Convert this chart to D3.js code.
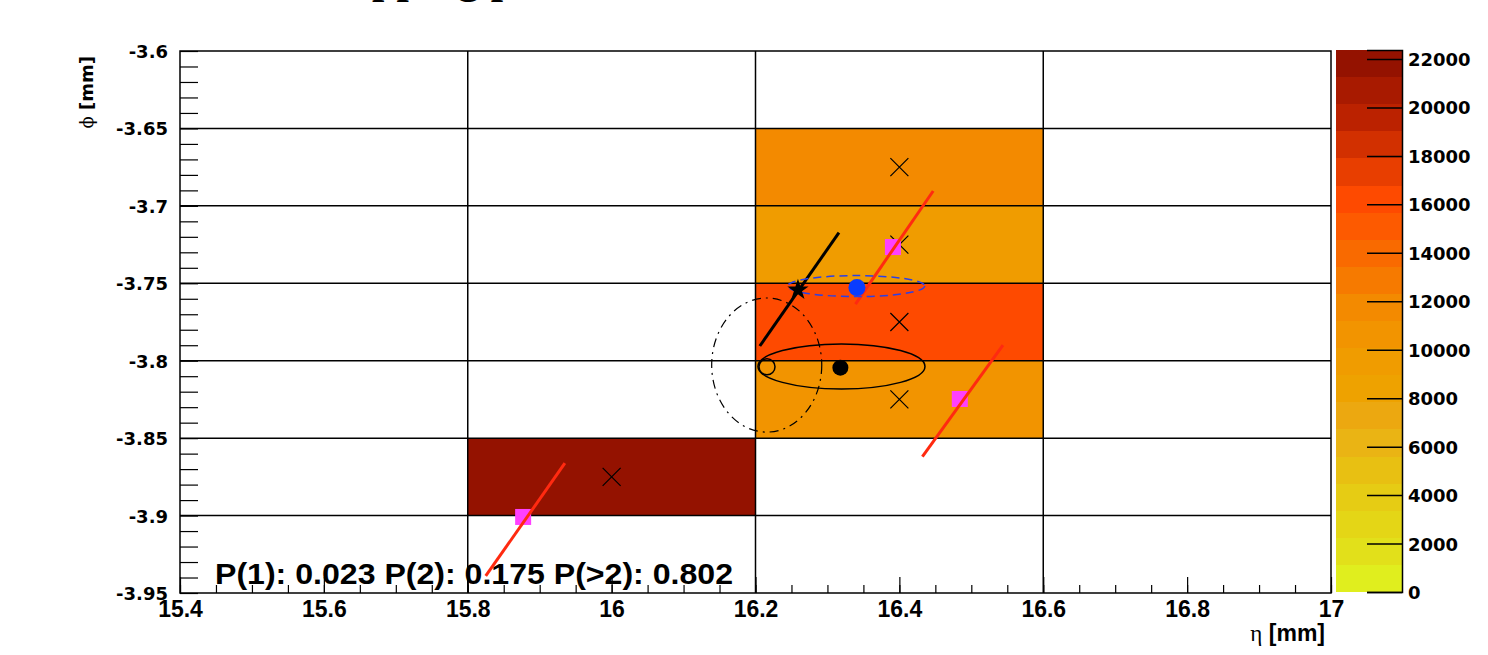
<!DOCTYPE html>
<html>
<head>
<meta charset="utf-8">
<script src="https://cdnjs.cloudflare.com/ajax/libs/d3/7.8.5/d3.min.js"></script>
<style>
  body { margin: 0; background: #ffffff; }
  svg { display: block; }
</style>
</head>
<body>
<div id="chart"></div>
<script>
// ---- data ----
// 2D histogram bins (centres, eta x phi), bin size 0.4 x 0.05
var binEta = [16.4, 16.4, 16.4, 16.4, 16.0];
var binPhi = [-3.675, -3.725, -3.775, -3.825, -3.875];
var binCounts = [11800, 9200, 16200, 10600, 22371];
var binWidthEta = 0.4;
var binWidthPhi = 0.05;

// pixel boundary lines
var gridEta = [15.8, 16.2, 16.6];
var gridPhi = [-3.65, -3.7, -3.75, -3.8, -3.85, -3.9];

// axis ticks
var xTicks = [15.4, 15.6, 15.8, 16.0, 16.2, 16.4, 16.6, 16.8, 17.0];
var xTickLabels = ["15.4", "15.6", "15.8", "16", "16.2", "16.4", "16.6", "16.8", "17"];
var yTicks = [-3.6, -3.65, -3.7, -3.75, -3.8, -3.85, -3.9, -3.95];
var yTickLabels = ["-3.6", "-3.65", "-3.7", "-3.75", "-3.8", "-3.85", "-3.9", "-3.95"];
var zTicks = [0, 2000, 4000, 6000, 8000, 10000, 12000, 14000, 16000, 18000, 20000, 22000];

// colour palette (bottom -> top, 20 contours)
var palette = ["#e0ee1e", "#e2e01a", "#e4d616", "#e6cc14", "#e8c012", "#eab414", "#eca810",
               "#eea200", "#f09c00", "#f29400", "#f38a00", "#f67a00", "#f96a00", "#fd5a00",
               "#fe4a00", "#e83e00", "#d23000", "#bb2200", "#a81a00", "#941200"];

// truth hits (magenta squares) and their track segments (red)
var hitEta = [16.391, 16.484, 15.877];
var hitPhi = [-3.7266, -3.8247, -3.9009];
var trackEta1 = [16.339, 16.432, 15.825];
var trackPhi1 = [-3.7634, -3.862, -3.939];
var trackEta2 = [16.447, 16.544, 15.935];
var trackPhi2 = [-3.6904, -3.7899, -3.8662];

// reconstructed cluster direction (black line + star)
var recoLineEta = [16.206, 16.316];
var recoLinePhi = [-3.7905, -3.7173];
var starEta = 16.259, starPhi = -3.7543;

// cluster positions and error ellipses
var blueDot = {eta: 16.341, phi: -3.7528};
var blueEllipse = {eta: 16.340, phi: -3.7518, rEta: 0.0952, rPhi: 0.00678};
var blackDot = {eta: 16.318, phi: -3.8045};
var blackEllipse = {eta: 16.3195, phi: -3.8037, rEta: 0.1161, rPhi: 0.01453};
var openCircle = {eta: 16.216, phi: -3.8039};
var dashedEllipse = {eta: 16.2156, phi: -3.8028, rEta: 0.0765, rPhi: 0.0433};

var probText = "P(1): 0.023 P(2): 0.175 P(>2): 0.802";

(function (window, undefined) {

    var W = 1488, H = 655;
    var plot = {left: 180, right: 1331, top: 51, bottom: 593};
    var zbar = {left: 1336, right: 1402};

    var svg = d3.select("#chart").append("svg")
        .attr("width", W)
        .attr("height", H);

    svg.append("rect")
        .attr("width", W)
        .attr("height", H)
        .attr("fill", "#ffffff");

    //scales
    var x = d3.scaleLinear().domain([15.4, 17.0]).range([plot.left, plot.right]);
    var y = d3.scaleLinear().domain([-3.95, -3.6]).range([plot.bottom, plot.top]);
    var zMax = 22371;
    var z = d3.scaleLinear().domain([0, zMax]).range([plot.bottom - 1, plot.top - 1]);
    var colour = d3.scaleQuantize().domain([0, zMax]).range(palette);

    // cut off title at the very top
    svg.append("text")
        .attr("x", 372)
        .attr("y", -7)
        .style("font-family", "'Liberation Serif', 'DejaVu Serif', serif")
        .style("font-weight", "bold")
        .style("font-size", "44px")
        .text("pping p");

    //histogram cells
    var cells = binEta.map(function(d, i){
        return {eta: d, phi: binPhi[i], n: binCounts[i]};
    });
    svg.append("g").selectAll("rect")
        .data(cells)
        .enter().append("rect")
        .attr("x", function(d){ return x(d.eta - binWidthEta / 2); })
        .attr("y", function(d){ return y(d.phi + binWidthPhi / 2); })
        .attr("width", function(d){ return x(d.eta + binWidthEta / 2) - x(d.eta - binWidthEta / 2); })
        .attr("height", function(d){ return y(d.phi - binWidthPhi / 2) - y(d.phi + binWidthPhi / 2); })
        .attr("fill", function(d){ return colour(d.n); });

    //grid lines
    var grid = svg.append("g")
        .attr("stroke", "#000")
        .attr("stroke-width", 1.5);
    grid.selectAll(".gv").data(gridEta).enter().append("line")
        .attr("x1", function(d){ return x(d); })
        .attr("x2", function(d){ return x(d); })
        .attr("y1", plot.top)
        .attr("y2", plot.bottom);
    grid.selectAll(".gh").data(gridPhi).enter().append("line")
        .attr("x1", plot.left)
        .attr("x2", plot.right)
        .attr("y1", function(d){ return y(d); })
        .attr("y2", function(d){ return y(d); });

    //axes
    var xMinor = d3.range(0, 33).map(function(i){ return 15.4 + i * 0.05; });
    var xAxis = d3.axisBottom(x).tickValues(xMinor).tickSize(-8).tickFormat("");
    svg.append("g")
        .attr("transform", "translate(0," + plot.bottom + ")")
        .call(xAxis)
        .call(function(g){
            g.select(".domain").remove();
            g.selectAll("line").attr("stroke-width", 1.2);
        });
    var xMajor = d3.axisBottom(x).tickValues(xTicks).tickSize(-16)
        .tickFormat(function(d, i){ return xTickLabels[i]; });
    svg.append("g")
        .attr("transform", "translate(0," + plot.bottom + ")")
        .call(xMajor)
        .call(function(g){
            g.select(".domain").remove();
            g.selectAll("line").attr("stroke-width", 1.2);
            g.selectAll("text")
                .attr("y", 24)
                .attr("dy", 0)
                .style("font-family", "'Liberation Sans', Arial, sans-serif")
                .style("font-weight", "bold")
                .style("font-size", "23px")
                .attr("fill", "#000");
        });

    var yMinor = d3.range(0, 36).map(function(i){ return -3.95 + i * 0.01; });
    var yAxis = d3.axisLeft(y).tickValues(yMinor).tickSize(-18).tickFormat("");
    svg.append("g")
        .attr("transform", "translate(" + plot.left + ",0)")
        .call(yAxis)
        .call(function(g){
            g.select(".domain").remove();
            g.selectAll("line").attr("stroke-width", 1.2);
        });
    var yMajor = d3.axisLeft(y).tickValues(yTicks).tickSize(0)
        .tickFormat(function(d, i){ return yTickLabels[i]; });
    svg.append("g")
        .attr("transform", "translate(" + plot.left + ",0)")
        .call(yMajor)
        .call(function(g){
            g.select(".domain").remove();
            g.selectAll("text")
                .attr("x", -12)
                .attr("dy", "0.36em")
                .style("font-family", "'DejaVu Sans', sans-serif")
                .style("font-weight", "bold")
                .style("font-size", "18px")
                .attr("fill", "#000");
        });

    //frame
    svg.append("rect")
        .attr("x", plot.left)
        .attr("y", plot.top)
        .attr("width", plot.right - plot.left)
        .attr("height", plot.bottom - plot.top)
        .attr("fill", "none")
        .attr("stroke", "#000")
        .attr("stroke-width", 1.5);

    //axis titles
    var yTitle = svg.append("text")
        .attr("transform", "translate(93,56) rotate(-90)")
        .attr("text-anchor", "end")
        .style("font-family", "'DejaVu Sans', sans-serif")
        .style("font-weight", "bold")
        .style("font-size", "18px");
    yTitle.append("tspan")
        .style("font-family", "'DejaVu Serif', serif")
        .style("font-weight", "normal")
        .text("\u03d5");
    yTitle.append("tspan").text(" [mm]");

    var xTitle = svg.append("text")
        .attr("x", 1325)
        .attr("y", 641)
        .attr("text-anchor", "end")
        .style("font-family", "'Liberation Sans', Arial, sans-serif")
        .style("font-weight", "bold")
        .style("font-size", "23px");
    xTitle.append("tspan")
        .style("font-family", "'Liberation Serif', serif")
        .style("font-weight", "normal")
        .text("\u03b7");
    xTitle.append("tspan").text(" [mm]");

    //marks
    var marks = svg.append("g");

    // crosses at bin centres
    marks.selectAll(".cross").data(cells).enter().append("path")
        .attr("d", function(d){
            var cx = x(d.eta), cy = y(d.phi), s = 9;
            return "M" + (cx - s) + "," + (cy - s) + "L" + (cx + s) + "," + (cy + s) +
                   "M" + (cx - s) + "," + (cy + s) + "L" + (cx + s) + "," + (cy - s);
        })
        .attr("stroke", "#000")
        .attr("stroke-width", 1.2)
        .attr("fill", "none");

    // dashed ellipse (dash-dot)
    function ellipse(e){
        return marks.append("ellipse")
            .attr("cx", x(e.eta))
            .attr("cy", y(e.phi))
            .attr("rx", x(e.eta + e.rEta) - x(e.eta))
            .attr("ry", y(e.phi - e.rPhi) - y(e.phi))
            .attr("fill", "none");
    }
    ellipse(dashedEllipse)
        .attr("stroke", "#000")
        .attr("stroke-width", 1.2)
        .attr("stroke-dasharray", "9,5,2,5");

    // magenta hits
    marks.selectAll(".hit").data(hitEta).enter().append("rect")
        .attr("x", function(d){ return x(d) - 8; })
        .attr("y", function(d, i){ return y(hitPhi[i]) - 8; })
        .attr("width", 16)
        .attr("height", 16)
        .attr("fill", "#ff40ff");

    // red tracks
    marks.selectAll(".track").data(trackEta1).enter().append("line")
        .attr("x1", function(d){ return x(d); })
        .attr("y1", function(d, i){ return y(trackPhi1[i]); })
        .attr("x2", function(d, i){ return x(trackEta2[i]); })
        .attr("y2", function(d, i){ return y(trackPhi2[i]); })
        .attr("stroke", "#ff2a10")
        .attr("stroke-width", 3);

    // reconstructed direction
    marks.append("line")
        .attr("x1", x(recoLineEta[0]))
        .attr("y1", y(recoLinePhi[0]))
        .attr("x2", x(recoLineEta[1]))
        .attr("y2", y(recoLinePhi[1]))
        .attr("stroke", "#000")
        .attr("stroke-width", 3);

    ellipse(blueEllipse)
        .attr("stroke", "#2a40e8")
        .attr("stroke-width", 1.5)
        .attr("stroke-dasharray", "8,5");

    ellipse(blackEllipse)
        .attr("stroke", "#000")
        .attr("stroke-width", 1.5);

    marks.append("circle")
        .attr("cx", x(blueDot.eta))
        .attr("cy", y(blueDot.phi))
        .attr("r", 8.5)
        .attr("fill", "#0a3cff");

    marks.append("circle")
        .attr("cx", x(blackDot.eta))
        .attr("cy", y(blackDot.phi))
        .attr("r", 8)
        .attr("fill", "#000");

    marks.append("circle")
        .attr("cx", x(openCircle.eta))
        .attr("cy", y(openCircle.phi))
        .attr("r", 8)
        .attr("fill", "none")
        .attr("stroke", "#000")
        .attr("stroke-width", 1.5);

    marks.append("path")
        .attr("d", d3.symbol().type(d3.symbolStar).size(140))
        .attr("transform", "translate(" + x(starEta) + "," + y(starPhi) + ")")
        .attr("fill", "#000");

    // probability text
    svg.append("text")
        .attr("x", 215)
        .attr("y", 584)
        .attr("textLength", 518)
        .attr("lengthAdjust", "spacingAndGlyphs")
        .style("font-family", "'Liberation Sans', Arial, sans-serif")
        .style("font-weight", "bold")
        .style("font-size", "30px")
        .text(probText);

    //colour bar
    var bandStep = zMax / palette.length;
    svg.append("g").selectAll("rect")
        .data(palette)
        .enter().append("rect")
        .attr("x", zbar.left)
        .attr("width", zbar.right - zbar.left)
        .attr("y", function(d, i){ return z((i + 1) * bandStep); })
        .attr("height", function(d, i){ return z(i * bandStep) - z((i + 1) * bandStep); })
        .attr("fill", function(d){ return d; })
        .attr("shape-rendering", "crispEdges");

    var zAxis = d3.axisRight(z).tickValues(zTicks).tickSize(-35).tickPadding(6)
        .tickFormat(d3.format("d"));
    svg.append("g")
        .attr("transform", "translate(" + zbar.right + ",0)")
        .call(zAxis)
        .call(function(g){
            g.select(".domain").attr("stroke-width", 1.5);
            g.selectAll("line").attr("stroke-width", 1.5);
            g.selectAll("text")
                .attr("x", 6)
                .attr("dy", "0.36em")
                .style("font-family", "'DejaVu Sans', sans-serif")
                .style("font-weight", "bold")
                .style("font-size", "18px")
                .attr("fill", "#000");
        });

})(window)
</script>
</body>
</html>
